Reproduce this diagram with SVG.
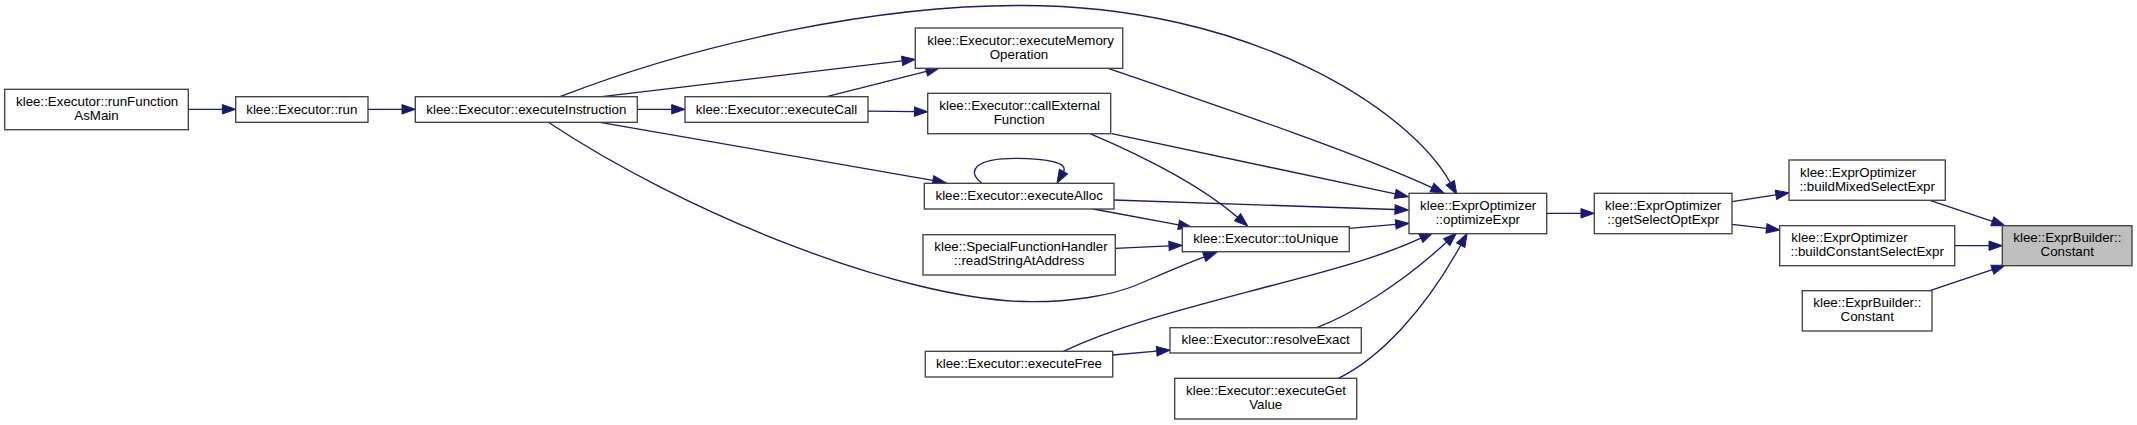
<svg xmlns="http://www.w3.org/2000/svg" width="2137" height="425" viewBox="0 0 2137 425">
<style>
.n rect{fill:#ffffff;stroke:#404040;stroke-width:1.33}
.n.root rect{fill:#bfbfbf}
.n text{font-family:"Liberation Sans",Arial,Helvetica,sans-serif;font-size:13.33px;fill:#000000}
.m{text-anchor:middle}
.e path{fill:none;stroke:#191970;stroke-width:1.33;marker-end:url(#ah)}
</style>
<defs>
<marker id="ah" markerUnits="userSpaceOnUse" markerWidth="16" markerHeight="12" refX="0" refY="5" orient="auto" overflow="visible">
<path d="M0,0.3 L13.3,5 L0,9.7 z" fill="#191970" stroke="#191970" stroke-width="1"/>
</marker>
</defs>
<rect width="2137" height="425" fill="#ffffff"/>
<g id="edges" class="e">
<path d="M188.3,109.3 L222.4,109.3"/>
<path d="M368,109.3 L402,109.3"/>
<path d="M637.3,109.3 L671.7,109.3"/>
<path d="M601.7,96.7 L902.1,60.9"/>
<path d="M826.7,96.7 L926.4,71.3"/>
<path d="M868,111.2 L914.4,111.6"/>
<path d="M600,122.3 L932.9,180.4"/>
<path d="M981.7,183 C966,171 975,158.3 1015,158.3 C1050,158.3 1068,163.5 1063.5,171.5"/>
<path d="M548.3,122.3 C680,210 900,301.7 1033,301.7 C1070,301.7 1110,296 1136.7,285 C1160,275 1185,264 1204.3,256.9"/>
<path d="M560,96.7 C700,42 880,5 1020,5.5 C1250,5 1410,110 1450.3,182.7"/>
<path d="M1108.3,68.3 C1200,100 1350,150 1432,187.6"/>
<path d="M1111.7,133.7 L1395.3,193.9"/>
<path d="M1090,133.7 C1140,155 1200,185 1237.6,217.3"/>
<path d="M1114,200 L1395,209.5"/>
<path d="M1093.3,209 L1178.6,224.9"/>
<path d="M1115.3,248.3 L1169,245.9"/>
<path d="M1349.3,228.3 L1395.7,224.4"/>
<path d="M1063.3,351.3 C1120,325 1180,310 1270,286 C1340,268 1385,255 1420.9,238.2"/>
<path d="M1112.7,355 L1156.7,351.2"/>
<path d="M1316.7,327.7 C1350,315 1400,285 1446.7,242.1"/>
<path d="M1338.3,378.3 C1380,358 1425,310 1460.7,245.2"/>
<path d="M1546.7,213.3 L1581,213.3"/>
<path d="M1732,201.7 L1775.9,194.8"/>
<path d="M1732,224.3 L1766.5,228.4"/>
<path d="M1930,200.3 L1992.4,221.4"/>
<path d="M1954.7,245.7 L1989,245.7"/>
<path d="M1930,290.7 L1992.4,269.6"/>
</g>
<g id="runFunctionAsMain" class="n">
<rect x="4.7" y="89.3" width="183.6" height="40.4"/>
<text x="16" y="106">klee::Executor::runFunction</text>
<text class="m" x="96.5" y="119.8">AsMain</text>
</g>
<g id="run" class="n">
<rect x="235.7" y="96.7" width="132.3" height="25.6"/>
<text class="m" x="301.8" y="113.5">klee::Executor::run</text>
</g>
<g id="executeInstruction" class="n">
<rect x="415.3" y="96.7" width="222" height="25.6"/>
<text class="m" x="526.3" y="113.5">klee::Executor::executeInstruction</text>
</g>
<g id="executeCall" class="n">
<rect x="685" y="96.7" width="183" height="25.6"/>
<text class="m" x="776.5" y="113.5">klee::Executor::executeCall</text>
</g>
<g id="executeMemoryOperation" class="n">
<rect x="915.3" y="28" width="207.4" height="40.3"/>
<text x="927.3" y="44.7">klee::Executor::executeMemory</text>
<text class="m" x="1019" y="58.5">Operation</text>
</g>
<g id="callExternalFunction" class="n">
<rect x="927.7" y="93.3" width="183" height="40.4"/>
<text x="939.3" y="110">klee::Executor::callExternal</text>
<text class="m" x="1019.2" y="123.8">Function</text>
</g>
<g id="executeAlloc" class="n">
<rect x="924.3" y="183.3" width="189.7" height="25.7"/>
<text class="m" x="1019.2" y="200.2">klee::Executor::executeAlloc</text>
</g>
<g id="readStringAtAddress" class="n">
<rect x="923" y="234.7" width="192.3" height="40.3"/>
<text x="934.3" y="251.4">klee::SpecialFunctionHandler</text>
<text class="m" x="1019.2" y="265.2">::readStringAtAddress</text>
</g>
<g id="executeFree" class="n">
<rect x="925.3" y="351.3" width="187.4" height="25.7"/>
<text class="m" x="1019" y="368.2">klee::Executor::executeFree</text>
</g>
<g id="toUnique" class="n">
<rect x="1182.3" y="226.7" width="167" height="25"/>
<text class="m" x="1265.8" y="243.3">klee::Executor::toUnique</text>
</g>
<g id="optimizeExpr" class="n">
<rect x="1409" y="193.3" width="137.7" height="40.4"/>
<text x="1420" y="210">klee::ExprOptimizer</text>
<text class="m" x="1477.8" y="223.8">::optimizeExpr</text>
</g>
<g id="resolveExact" class="n">
<rect x="1170" y="327.7" width="191.3" height="25.3"/>
<text class="m" x="1265.7" y="344.4">klee::Executor::resolveExact</text>
</g>
<g id="executeGetValue" class="n">
<rect x="1174.7" y="378.3" width="182" height="40.7"/>
<text x="1186" y="395">klee::Executor::executeGet</text>
<text class="m" x="1265.7" y="408.8">Value</text>
</g>
<g id="getSelectOptExpr" class="n">
<rect x="1594.3" y="193.3" width="137.7" height="40.4"/>
<text x="1605" y="210">klee::ExprOptimizer</text>
<text class="m" x="1663.2" y="223.8">::getSelectOptExpr</text>
</g>
<g id="buildMixedSelectExpr" class="n">
<rect x="1789" y="160" width="156.3" height="40.3"/>
<text x="1800" y="176.7">klee::ExprOptimizer</text>
<text class="m" x="1867.2" y="190.5">::buildMixedSelectExpr</text>
</g>
<g id="buildConstantSelectExpr" class="n">
<rect x="1779.7" y="225.7" width="175" height="40"/>
<text x="1791.3" y="242.4">klee::ExprOptimizer</text>
<text class="m" x="1867.2" y="256.2">::buildConstantSelectExpr</text>
</g>
<g id="ExprBuilderConstant2" class="n">
<rect x="1802.3" y="290.7" width="129.7" height="40.3"/>
<text x="1813.3" y="307.4">klee::ExprBuilder::</text>
<text class="m" x="1867.2" y="321.2">Constant</text>
</g>
<g id="ExprBuilderConstant" class="n root">
<rect x="2002.3" y="225.7" width="129.7" height="40"/>
<text x="2013.3" y="242.4">klee::ExprBuilder::</text>
<text class="m" x="2067.2" y="256.2">Constant</text>
</g>
</svg>
